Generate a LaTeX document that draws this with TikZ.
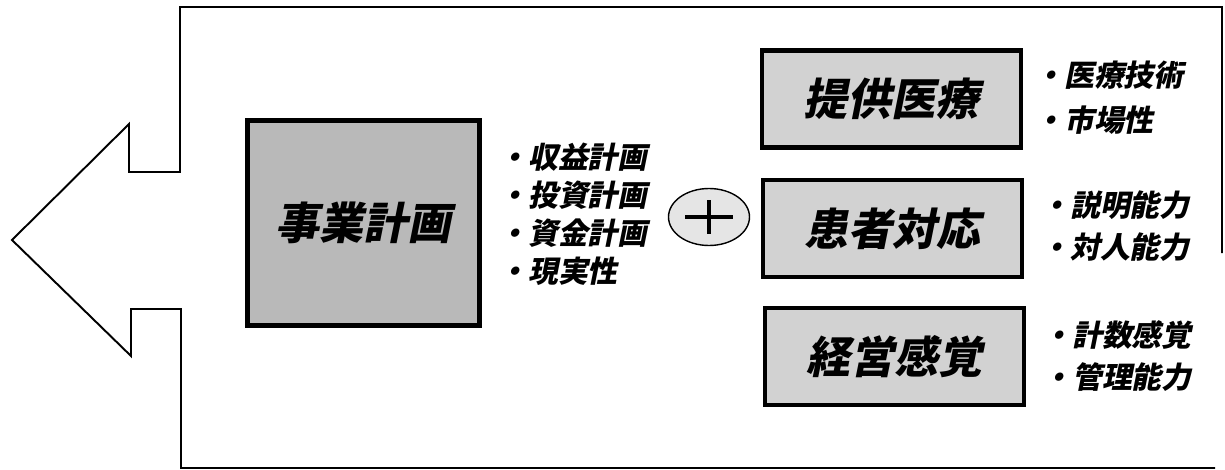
\documentclass[tikz,border=0pt]{standalone}
\usepackage{fontspec}
\newfontfamily\jp[FakeSlant=0.2]{Noto Sans CJK JP}
\usetikzlibrary{shapes.geometric}
\begin{document}
\begin{tikzpicture}[x=0.02cm,y=-0.02cm,
  outline/.style={line width=1.1pt,line join=miter},
  mainbox/.style={draw,line width=2.8pt,fill=gray!55,minimum width=232*0.02cm,minimum height=205*0.02cm,inner sep=0pt,font=\jp\bfseries\fontsize{25}{25}\selectfont},
  subbox/.style={draw,line width=2.8pt,fill=gray!35,minimum width=259*0.02cm,minimum height=97*0.02cm,inner sep=0pt,font=\jp\bfseries\fontsize{25}{25}\selectfont},
  item/.style={anchor=west,inner sep=0pt,font=\jp\bfseries\fontsize{17}{17}\selectfont},
  plusshape/.style={draw,ellipse,line width=0.8pt,fill=gray!20,minimum width=81*0.02cm,minimum height=57*0.02cm,inner sep=0pt}]
\useasboundingbox (0,0) rectangle (1225,470);
% big arrow outline
\coordinate (r1) at (1222,253);
\coordinate (r2) at (1222,7);
\coordinate (t1) at (180,7);
\coordinate (n1) at (180,172);
\coordinate (n2) at (129,172);
\coordinate (n3) at (129,124);
\coordinate (tip) at (12,240);
\coordinate (n4) at (131,356);
\coordinate (n5) at (131,309);
\coordinate (n6) at (181,309);
\coordinate (b1) at (181,468);
\coordinate (b2) at (1215,468);
\draw[outline] (r1) -- (r2) -- (t1) -- (n1) -- (n2) -- (n3) -- (tip) -- (n4) -- (n5) -- (n6) -- (b1) -- (b2);
% main box
\node[mainbox] (plan) at (363.5,223) {事業計画};
\node[item] (l1) at (498,157) {・収益計画};
\node[item] (l2) at (498,195) {・投資計画};
\node[item] (l3) at (498,233) {・資金計画};
\node[item] (l4) at (498,271) {・現実性};
% plus
\node[plusshape] (plus) at (709,217) {};
\draw[line width=2.2pt] ([xshift=-24*0.02cm]plus.center) -- ([xshift=24*0.02cm]plus.center);
\draw[line width=2.2pt] ([yshift=17*0.02cm]plus.center) -- ([yshift=-17*0.02cm]plus.center);
% right boxes
\node[subbox] (b1n) at (891.5,99) {提供医療};
\node[subbox] (b2n) at (892.5,228.5) {患者対応};
\node[subbox] (b3n) at (894.5,356.5) {経営感覚};
\node[item] (r11) at (1034,75) {・医療技術};
\node[item] (r12) at (1034,120) {・市場性};
\node[item] (r21) at (1040,205) {・説明能力};
\node[item] (r22) at (1040,247) {・対人能力};
\node[item] (r31) at (1042,335) {・計数感覚};
\node[item] (r32) at (1042,377) {・管理能力};
\end{tikzpicture}
\end{document}
